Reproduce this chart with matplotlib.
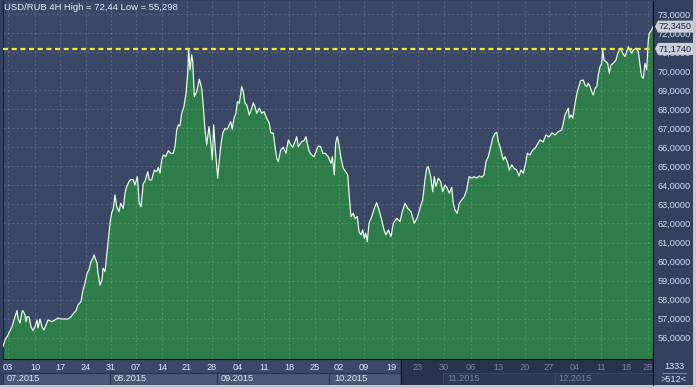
import matplotlib
matplotlib.use("Agg")
import matplotlib.pyplot as plt
from matplotlib.patches import Rectangle, Polygon
from matplotlib.lines import Line2D

plt.rcParams["font.family"] = ["Liberation Sans", "DejaVu Sans"]

# USD/RUB 4H closes, x = chart bar slot (compressed time axis)
bars = [
    0, 2, 5, 9, 12, 14, 15, 17, 19, 20, 22, 23, 24, 26, 28, 30, 32, 34, 35, 37,
    39, 41, 43, 45, 49, 52, 55, 59, 62, 65, 68, 70, 73, 75, 78, 80, 82, 84, 86, 88,
    90, 91, 94, 95, 97, 99, 100, 102, 104, 105,
    107, 108.7, 110.3, 112, 113.7, 116, 117.7, 120.3, 122, 123.7,
    126, 128, 130.3, 132, 134.3, 136.3, 138, 140.3, 142, 144.7,
    146.3, 148.7, 151.3, 153.7, 155.3, 157, 158.7, 160.3, 162.7, 165.3,
    167.7, 170.3, 172, 173.7, 175.3, 177, 178.7, 181, 183, 184.7,
    185.7, 187, 188.7, 189.7, 191.3, 193.7, 196.3, 198.7, 200.3, 202,
    203.7, 206, 208, 209.3, 210.7, 212, 213.7, 214.7, 216,
    217.7, 219.7, 222, 224.3, 226.3, 227.7, 229.3, 231, 233, 234.3,
    236.3, 238.7, 240.3, 242, 243.7, 246.3, 248.7, 250.3, 252, 253.7,
    256.3, 258.7, 261, 263.7, 266.3, 267.7, 270.3, 272, 273.7, 275.3,
    277.7, 280.3, 283, 285.3, 287.7, 289.7, 292, 293.7, 295.3, 298.7,
    301, 303, 304.3, 306.3, 308.7, 311, 313, 315.3, 317.7, 319.7, 322,
    325.3, 328, 329.3, 331.3, 332.7, 334.3, 336, 338, 340.3, 342.7,
    344.7, 346.3, 348, 350.3, 352, 354.3, 356, 358, 359.7, 361.3,
    362.7, 364.3, 366, 368.7, 371.3, 373.7, 376, 378.7, 381, 383,
    385.3, 388, 390.3, 393.7, 397, 399.3, 402, 404.7, 408, 411.3, 414.7, 417,
    419.7, 422, 423.7, 425.3, 427.7, 429.7, 431.3, 433, 435.3, 437.7,
    439.7, 442, 444.3, 446.3, 448.7, 450.3, 452, 454.3, 456.3, 458.7,
    461, 463.7, 466, 468.7, 471, 473.7, 476.3, 478.7, 481, 483,
    485.3, 487.7, 489.7, 492, 493.7, 495.3, 497, 498.7, 500.3, 502,
    504.3, 506.3, 508.7, 511, 513.7, 516, 518, 520.3, 523, 524.3,
    527, 529.7, 532, 534, 537, 540, 543, 546, 549, 552, 555,
    558.7, 560.3, 562, 563.7, 565.3, 566.3, 568, 569.7, 571.3, 573,
    574.3, 576.3, 577.7, 580.3, 582, 583.7, 585.3, 587, 588.7, 590.3,
    592, 593.7, 595.3, 597, 598.7, 599.7, 601, 603, 604.7, 606.3,
    608, 610.3, 613, 614.3, 616.3, 618, 619.7, 622, 623.7, 625.3,
    627, 628.7, 630.3, 633, 635.3, 637, 638.7, 640.3, 642, 643.7,
    645.3, 646.3, 648.7, 650,
]
price = [
    55.53, 55.88, 56.14, 56.58, 57.10, 57.42, 57.04, 56.77, 57.37, 57.42,
    57.19, 56.84, 57.10, 57.09, 56.58, 56.37, 56.58, 56.93, 56.51, 56.98,
    56.58, 56.40, 56.67, 56.93, 56.84, 56.93, 57.03, 56.98, 56.98, 56.98,
    57.10, 57.24, 57.42, 57.72, 57.89, 58.51, 58.86, 59.38, 59.56, 59.99,
    60.17, 60.35, 59.91, 59.38, 58.77, 59.03, 59.65, 59.47, 60.44, 60.96,
    62.01, 62.54, 62.80, 63.50, 62.88, 62.62, 63.06, 62.80, 63.59, 63.94,
    64.20, 64.32, 64.29, 64.02, 64.46, 63.06, 62.88, 64.11, 64.20, 64.72,
    64.29, 64.29, 64.81, 64.72, 64.95, 64.64, 65.34, 65.60, 65.51, 65.83,
    65.69, 65.69, 66.04, 66.91, 67.18, 67.12, 67.79, 68.14, 68.84, 69.89,
    71.15, 70.07, 70.86, 70.50, 68.66, 68.93, 69.58, 69.11, 68.14, 66.91,
    66.13, 67.09, 66.13, 65.34, 67.18, 66.13, 64.99, 64.38, 65.16,
    66.04, 66.74, 67.00, 66.95, 67.18, 67.35, 66.95, 67.53, 67.79, 68.40,
    68.32, 69.19, 68.93, 68.32, 68.23, 67.70, 68.06, 68.35, 68.14, 67.79,
    68.06, 67.79, 67.88, 67.53, 67.27, 66.77, 66.74, 66.04, 65.43, 65.25,
    65.86, 66.01, 65.69, 66.39, 66.13, 66.01, 66.30, 66.56, 66.04, 66.30,
    66.35, 66.56, 66.21, 65.77, 65.60, 65.51, 65.77, 66.07, 66.04, 65.69, 65.69,
    65.51, 65.16, 65.51, 64.55, 66.22, 66.56, 66.13, 65.43, 64.90, 64.72,
    64.55, 63.41, 62.36, 62.54, 62.27, 62.36, 61.57, 61.40, 61.66, 61.22,
    61.49, 61.05, 62.01, 62.36, 62.80, 63.09, 62.71, 62.19, 61.66, 61.40,
    61.66, 61.31, 62.01, 62.27, 62.10, 62.62, 63.06, 62.80, 62.62, 62.01, 62.36, 62.81,
    63.24, 64.29, 64.90, 64.99, 64.46, 63.67, 64.46, 63.94, 64.38, 64.20,
    63.67, 64.02, 63.85, 63.59, 63.90, 63.06, 62.71, 62.54, 63.06, 63.24,
    63.38, 63.76, 64.46, 64.38, 64.46, 64.38, 64.50, 64.43, 64.55, 65.25,
    65.51, 66.04, 66.48, 66.74, 66.79, 66.30, 66.04, 65.69, 65.34, 65.51,
    65.25, 64.81, 65.08, 64.90, 64.81, 64.50, 64.81, 64.64, 65.25, 65.69,
    65.60, 65.86, 65.95, 66.13, 66.39, 66.28, 66.65, 66.55, 66.76, 66.65, 66.81,
    66.91, 67.27, 67.70, 67.88, 68.06, 67.53, 67.70, 67.53, 68.06, 68.58,
    68.93, 69.28, 69.51, 69.54, 69.28, 69.19, 69.37, 69.19, 68.93, 68.75,
    69.10, 69.19, 69.81, 70.24, 70.42, 71.12, 70.59, 70.50, 70.42, 69.89,
    70.33, 70.42, 70.59, 70.86, 71.12, 71.21, 70.94, 70.77, 71.03, 71.29,
    71.12, 70.94, 71.12, 71.21, 71.03, 70.33, 69.72, 69.63, 70.42, 70.07,
    71.64, 71.99, 72.17, 72.345,
]

tick_pos = [5, 32, 57, 82.5, 107.5, 133, 159, 184, 209, 235, 261, 286, 311.5,
            336, 360.5, 388.5, 415, 440.5, 468, 495, 521.5, 546, 572, 598, 623, 645]
tick_lbl = ["03", "10", "17", "24", "31", "07", "14", "21", "28", "04", "11", "18", "25",
            "02", "09", "19", "23", "30", "06", "13", "20", "27", "04", "11", "18", "28"]
months = ["07.2015", "08.2015", "09.2015", "10.2015", "11.2015", "12.2015"]
month_x = [4, 111, 218, 331, 444, 555]
month_edges_lit = [0, 107, 214, 326, 398]
month_edges_dim = [440, 552, 650]
dim_from = 398

y_ticks = list(range(56, 74))
last_price = 72.345
level = 71.174
title = "USD/RUB 4H High = 72,44 Low = 55,298"

PANEL = "#33405e"
PLOT_BG = "#3a4766"
GREEN = "#2d7c4a"
TXT = "#d4dff0"
DIM = "#78839b"

W, H = 696, 388
fig = plt.figure(figsize=(W / 100, H / 100), dpi=100, facecolor="#c3c7cf")
fig.patches.append(Rectangle((0, 3 / H), 693 / W, 385 / H, transform=fig.transFigure,
                             facecolor=PANEL, edgecolor="none", zorder=0))

ax = fig.add_axes([3 / W, 29 / H, 650 / W, 358 / H])
ax.set_zorder(2)
ax.set_facecolor(PLOT_BG)
ymin, ymax = 54.88, 73.69
ax.set_xlim(0, 650)
ax.set_ylim(ymin, ymax)

ax.fill_between(bars, price, ymin, color=GREEN, lw=0, zorder=1)
ax.plot(bars, price, color="#e2fcde", lw=0.9, zorder=3)
ax.axhline(level, color="#eeec2c", lw=1.6, ls=(0, (2.3, 1.6)), zorder=4)

ax.set_xticks(tick_pos)
ax.set_xticklabels(tick_lbl)
ax.set_yticks(y_ticks)
ax.set_yticklabels([f"{v:.4f}".replace(".", ",") for v in y_ticks])
ax.yaxis.tick_right()
ax.tick_params(axis="x", length=0, pad=3, labelsize=6.6, labelcolor="#e4e9f3")
ax.tick_params(axis="y", length=0, pad=3, labelsize=6.6, labelcolor=TXT)
for t, xp in zip(ax.get_xticklabels(), tick_pos):
    if xp > dim_from:
        t.set_color(DIM)
ax.grid(True, color="white", alpha=0.14, lw=0.8, ls=(0, (2, 2)))

for side in ["top"]:
    ax.spines[side].set_visible(False)
ax.spines["bottom"].set_color("#0d1018")
ax.spines["right"].set_color("#0d1018")
ax.spines["left"].set_color("#1c2233")

ax.text(0.0015, 0.981, title, transform=ax.transAxes, ha="left", va="center",
        fontsize=6.8, color="#e8ecf4", zorder=6)

# price callouts on the right scale
px_y = (ymax - ymin) / 358
for val, col in [(last_price, "#c9ced8"), (level, "#c9ced8")]:
    h = 6 * px_y
    ax.add_patch(Polygon([(652, val), (655, val + h), (690, val + h), (690, val - h), (655, val - h)],
                         closed=True, facecolor=col, edgecolor="none", clip_on=False, zorder=6))
    ax.text(655.5, val, f"{val:.4f}".replace(".", ","), ha="left", va="center",
            fontsize=6.6, color="#18223a", clip_on=False, zorder=7)

# date band under the plot
band = fig.add_axes([3 / W, 3 / H, 650 / W, 26 / H])
band.set_zorder(1)
band.set_facecolor("#3c4867")
band.set_xlim(0, 650)
band.set_ylim(0, 1)
band.set_xticks([])
band.set_yticks([])
for side in ["top", "bottom", "left"]:
    band.spines[side].set_visible(False)
band.spines["right"].set_color("#0d1018")
band.axvspan(dim_from, 650, color="#29334d", lw=0)
for x0, x1 in zip(month_edges_lit[:-1], month_edges_lit[1:]):
    band.add_patch(Rectangle((x0, 0), x1 - x0, 0.48, facecolor="#4b5775",
                             edgecolor="#2b334a", lw=0.8))
for x0, x1 in zip(month_edges_dim[:-1], month_edges_dim[1:]):
    band.add_patch(Rectangle((x0, 0), x1 - x0, 0.48, facecolor="#2e3954",
                             edgecolor="#3b4662", lw=0.8))
band.axvline(dim_from, color="#11151f", lw=1)
for m, mx in zip(months, month_x):
    band.text(mx, 0.24, m, ha="left", va="center", fontsize=6.6,
              color=DIM if mx > dim_from else "#e0e6f0")

# corner box
fig.text(674 / W, 1 - 366.5 / H, "1333", ha="center", va="center", fontsize=6.6, color="#dfe6f2")
fig.text(674 / W, 1 - 380 / H, ">512<", ha="center", va="center", fontsize=6.6, color="#dfe6f2")
fig.add_artist(Line2D([663 / W, 686 / W], [1 - 373.3 / H] * 2, color="#7d879c", lw=0.8))

fig.savefig("out.png", dpi=100, facecolor=fig.get_facecolor())
